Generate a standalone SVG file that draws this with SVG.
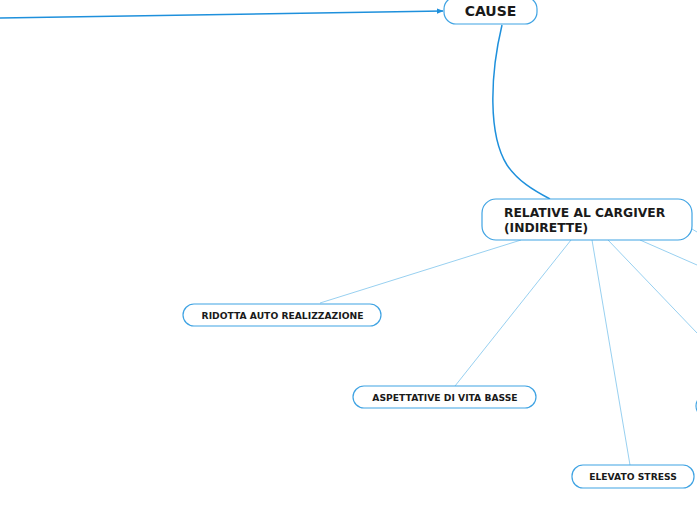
<svg xmlns="http://www.w3.org/2000/svg" width="697" height="520" viewBox="0 0 697 520">
<style>
.node{fill:#fff;stroke:#3fa3e3;stroke-width:1.2}
.t{font-family:"DejaVu Sans",Verdana,sans-serif;font-weight:bold;fill:#1a1a1a}
.main{fill:none;stroke:#1e90dc;stroke-width:1.5}
.thin{fill:none;stroke:#8ccbee;stroke-width:0.9}
</style>
<defs>
<marker id="arr" viewBox="0 0 10 10" refX="9" refY="5" markerWidth="7" markerHeight="7" orient="auto" markerUnits="userSpaceOnUse">
<path d="M0,1 L10,5 L0,9 z" fill="#1e90dc"/>
</marker>
</defs>
<g id="connectors">
<path class="main" d="M0,18 L443,11" marker-end="url(#arr)"/>
<path class="main" d="M502,25 C490,75 488,135 507,165 C518,181 533,190 550,199"/>
<path class="thin" d="M521,240 L320,303"/>
<path class="thin" d="M571,240 L455,386"/>
<path class="thin" d="M592,240 L630,465"/>
<path class="thin" d="M608,240 L697,333" stroke="#b9a8c8"/>
<path class="thin" d="M640,240 L697,265"/>
<path class="thin" d="M692,229 L697,232"/>
</g>
<g id="cause">
<rect class="node" x="444" y="-3" width="93" height="27" rx="12"/>
<text class="t" x="490.5" y="16" font-size="14" text-anchor="middle">CAUSE</text>
</g>
<g id="relative">
<rect class="node" x="482" y="199" width="210" height="41" rx="14"/>
<text class="t" x="504" y="217" font-size="12.3">RELATIVE AL CARGIVER</text>
<text class="t" x="504" y="232" font-size="12.3">(INDIRETTE)</text>
</g>
<g id="ridotta">
<rect class="node" x="183" y="304" width="198" height="22" rx="11"/>
<text class="t" x="282.5" y="319" font-size="9.2" text-anchor="middle">RIDOTTA AUTO REALIZZAZIONE</text>
</g>
<g id="aspettative">
<rect class="node" x="353" y="386" width="183" height="22" rx="11"/>
<text class="t" x="445" y="401" font-size="9.2" text-anchor="middle">ASPETTATIVE DI VITA BASSE</text>
</g>
<g id="elevato">
<rect class="node" x="572" y="465" width="122" height="23" rx="11"/>
<text class="t" x="633" y="480" font-size="9.2" text-anchor="middle">ELEVATO STRESS</text>
</g>
<g id="partial">
<rect class="node" x="696" y="395" width="60" height="22" rx="11"/>
</g>
</svg>
